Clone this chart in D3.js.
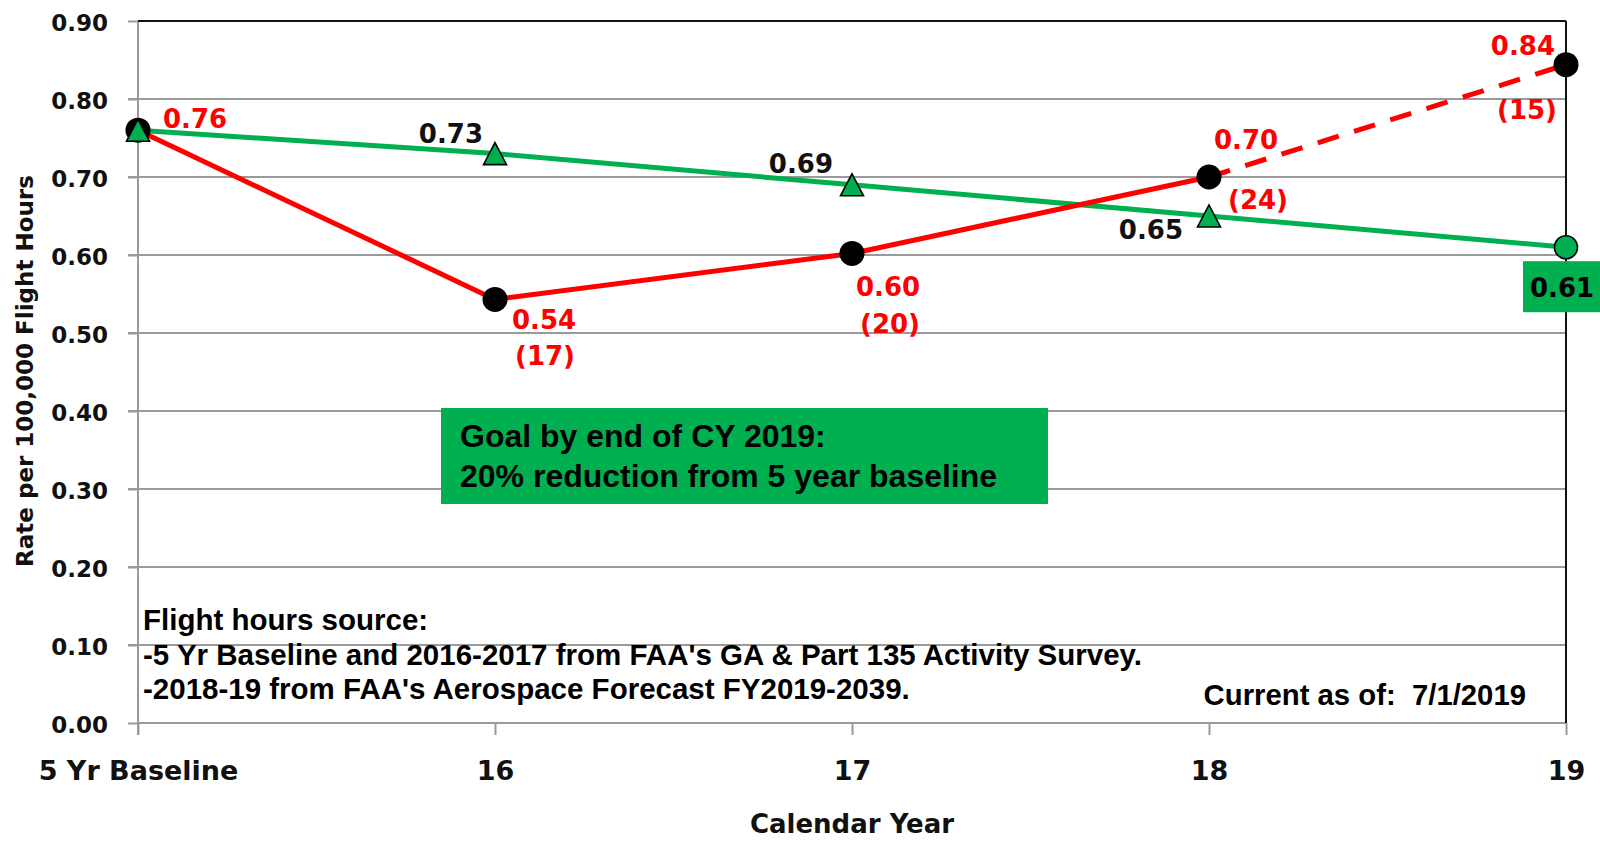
<!DOCTYPE html>
<html>
<head>
<meta charset="utf-8">
<script src="https://cdn.jsdelivr.net/npm/d3@7"></script>
<style>
  html, body { margin: 0; padding: 0; background: #ffffff; }
  svg { display: block; }
  .calib { font-family: "DejaVu Sans", sans-serif; font-weight: bold; }
  .arial { font-family: "Liberation Sans", Arial, sans-serif; font-weight: bold; }
</style>
</head>
<body>
<svg id="chart" width="1600" height="841"></svg>
<script>
// ---------------- DATA ----------------
const categories = ["5 Yr Baseline", "16", "17", "18", "19"];
const goalValues = [0.76, 0.73, 0.69, 0.65, 0.61];          // green goal line
const actualValues = [0.76, 0.543, 0.602, 0.70];            // red solid line (baseline..18)
const projectedCategories = ["18", "19"];
const projectedValues = [0.70, 0.844];                      // red dashed projection
const accidentCounts = ["", "(17)", "(20)", "(24)", "(15)"];
const yTickValues = [0, 0.1, 0.2, 0.3, 0.4, 0.5, 0.6, 0.7, 0.8, 0.9];
const yAxisTitle = "Rate per 100,000 Flight Hours";
const xAxisTitle = "Calendar Year";
const goalBoxLines = ["Goal by end of CY 2019:", "20% reduction from 5 year baseline"];
const sourceLines = [
  "Flight hours source:",
  "-5 Yr Baseline and 2016-2017 from FAA's GA & Part 135 Activity Survey.",
  "-2018-19 from FAA's Aerospace Forecast FY2019-2039."
];
const currentAsOf = "Current as of:  7/1/2019";

// ---------------- LAYOUT / STYLE ----------------
const RED = "#ff0000", GREEN = "#00b050", GRID = "#9a9a9a";
const svg = d3.select("#chart");
const x = d3.scalePoint().domain(categories).range([138, 1566]);
const y = d3.scaleLinear().domain([0, 0.9]).range([723, 21]);
const fmt = d3.format(".2f");

// grid lines
svg.append("g").selectAll("line").data(yTickValues.slice(1, -1)).join("line")
  .attr("x1", 128).attr("x2", x.range()[1])
  .attr("y1", d => y(d)).attr("y2", d => y(d))
  .attr("stroke", GRID).attr("stroke-width", 2);

// y axis
const yAxis = svg.append("g").attr("transform", `translate(${x.range()[0]},0)`)
  .call(d3.axisLeft(y).tickValues(yTickValues).tickFormat(fmt).tickSize(10).tickPadding(20));
yAxis.select(".domain").remove();
yAxis.selectAll(".tick line").attr("stroke", GRID).attr("stroke-width", 2);
yAxis.selectAll(".tick text").attr("class", "calib").attr("font-size", 23)
  .attr("fill", "#111").attr("dy", "0.42em");
svg.append("line").attr("x1", x.range()[0]).attr("x2", x.range()[0])
  .attr("y1", y(0.9)).attr("y2", y(0) + 12).attr("stroke", GRID).attr("stroke-width", 2);

// x axis
const xAxis = svg.append("g").attr("transform", `translate(0,${y(0)})`)
  .call(d3.axisBottom(x).tickSize(12).tickSizeOuter(0));
xAxis.select(".domain").attr("stroke", GRID).attr("stroke-width", 2).attr("d", `M${x.range()[0]},0H${x.range()[1]}`);
xAxis.selectAll(".tick line").attr("stroke", GRID).attr("stroke-width", 2);
xAxis.selectAll(".tick text").attr("class", "calib").attr("font-size", 27)
  .attr("fill", "#111").attr("y", 57).attr("dy", 0);

// top + right border (black)
svg.append("line").attr("x1", x.range()[0]).attr("x2", x.range()[1])
  .attr("y1", y(0.9)).attr("y2", y(0.9)).attr("stroke", "#111").attr("stroke-width", 2);
svg.append("line").attr("x1", x.range()[1]).attr("x2", x.range()[1])
  .attr("y1", y(0.9)).attr("y2", y(0)).attr("stroke", "#111").attr("stroke-width", 2);

// axis titles
svg.append("text").attr("class", "calib").attr("font-size", 23).attr("fill", "#111")
  .attr("text-anchor", "middle")
  .attr("transform", `translate(33,${(y(0.9) + y(0)) / 2 - 1}) rotate(-90)`)
  .text(yAxisTitle);
svg.append("text").attr("class", "calib").attr("font-size", 26).attr("fill", "#111")
  .attr("text-anchor", "middle").attr("x", x(categories[2])).attr("y", 833)
  .text(xAxisTitle);

// goal box annotation
svg.append("rect").attr("x", 441).attr("y", 408).attr("width", 607).attr("height", 96).attr("fill", GREEN);
svg.append("g").selectAll("text").data(goalBoxLines).join("text")
  .attr("class", "arial").attr("font-size", 32).attr("fill", "#000")
  .attr("x", 460).attr("y", (d, i) => 447 + i * 40).text(d => d);

// source notes
svg.append("g").selectAll("text").data(sourceLines).join("text")
  .attr("class", "arial").attr("font-size", 29.5).attr("fill", "#000")
  .attr("x", 143).attr("y", (d, i) => 630 + i * 34.5).text(d => d);
svg.append("text").attr("class", "arial").attr("font-size", 29.3).attr("fill", "#000")
  .attr("text-anchor", "end").attr("x", 1526).attr("y", 705)
  .style("white-space", "pre").text(currentAsOf);

// lines
const line = d3.line().x(d => x(d[0])).y(d => y(d[1]));
const goalPts = categories.map((c, i) => [c, goalValues[i]]);
const actualPts = actualValues.map((v, i) => [categories[i], v]);
const projPts = projectedCategories.map((c, i) => [c, projectedValues[i]]);

svg.append("path").attr("d", line(goalPts)).attr("fill", "none")
  .attr("stroke", GREEN).attr("stroke-width", 5);
svg.append("path").attr("d", line(projPts)).attr("fill", "none")
  .attr("stroke", RED).attr("stroke-width", 5).attr("stroke-dasharray", "22,16");
svg.append("path").attr("d", line(actualPts)).attr("fill", "none")
  .attr("stroke", RED).attr("stroke-width", 5).attr("stroke-linejoin", "round");

// red markers (black circles)
svg.append("g").selectAll("circle").data(actualPts.concat([projPts[1]])).join("circle")
  .attr("cx", d => x(d[0])).attr("cy", d => y(d[1])).attr("r", 12.5).attr("fill", "#000");

// green markers: triangles for first 4, circle for last
const tri = "M0,-11L11.5,11L-11.5,11Z";
svg.append("g").selectAll("path").data(goalPts.slice(0, 4)).join("path")
  .attr("d", tri).attr("transform", d => `translate(${x(d[0])},${y(d[1])})`)
  .attr("fill", GREEN).attr("stroke", "#000").attr("stroke-width", 1.6);
svg.append("circle").attr("cx", x(goalPts[4][0])).attr("cy", y(goalPts[4][1]))
  .attr("r", 11.5).attr("fill", GREEN).attr("stroke", "#000").attr("stroke-width", 1.6);

// red value labels
const redPts = actualPts.concat([projPts[1]]);
const redOffsets = [
  { dx: 25, dy: -2, a: "start" }, { dx: 17, dy: 30, a: "start" }, { dx: 4, dy: 43, a: "start" },
  { dx: 5, dy: -28, a: "start" }, { dx: -11, dy: -10, a: "end" }
];
svg.append("g").selectAll("text").data(redPts).join("text")
  .attr("class", "calib").attr("font-size", 26).attr("fill", RED)
  .attr("text-anchor", (d, i) => redOffsets[i].a)
  .attr("x", (d, i) => x(d[0]) + redOffsets[i].dx).attr("y", (d, i) => y(d[1]) + redOffsets[i].dy)
  .text(d => fmt(d[1]));

// accident count labels
const countOffsets = [null, { dx: 20, dy: 65.5, a: "start" }, { dx: 8, dy: 79.5, a: "start" },
  { dx: 19, dy: 31.5, a: "start" }, { dx: -9, dy: 54, a: "end" }];
svg.append("g").selectAll("text").data(redPts.slice(1)).join("text")
  .attr("class", "calib").attr("font-size", 26).attr("fill", RED)
  .attr("text-anchor", (d, i) => countOffsets[i + 1].a)
  .attr("x", (d, i) => x(d[0]) + countOffsets[i + 1].dx).attr("y", (d, i) => y(d[1]) + countOffsets[i + 1].dy)
  .text((d, i) => accidentCounts[i + 1]);

// green value labels (black text)
const greenOffsets = [null, { dx: -12, dy: -11 }, { dx: -19, dy: -12 }, { dx: -26, dy: 23 }];
svg.append("g").selectAll("text").data(goalPts.slice(1, 4)).join("text")
  .attr("class", "calib").attr("font-size", 26).attr("fill", "#111").attr("text-anchor", "end")
  .attr("x", (d, i) => x(d[0]) + greenOffsets[i + 1].dx).attr("y", (d, i) => y(d[1]) + greenOffsets[i + 1].dy)
  .text(d => fmt(d[1]));

// goal end label box
const gx = x(goalPts[4][0]), gy = y(goalPts[4][1]);
svg.append("rect").attr("x", gx - 43).attr("y", gy + 14).attr("width", 90).attr("height", 51).attr("fill", GREEN);
svg.append("text").attr("class", "calib").attr("font-size", 26).attr("fill", "#000")
  .attr("x", gx - 36).attr("y", gy + 50).text(fmt(goalPts[4][1]));
</script>
</body>
</html>
